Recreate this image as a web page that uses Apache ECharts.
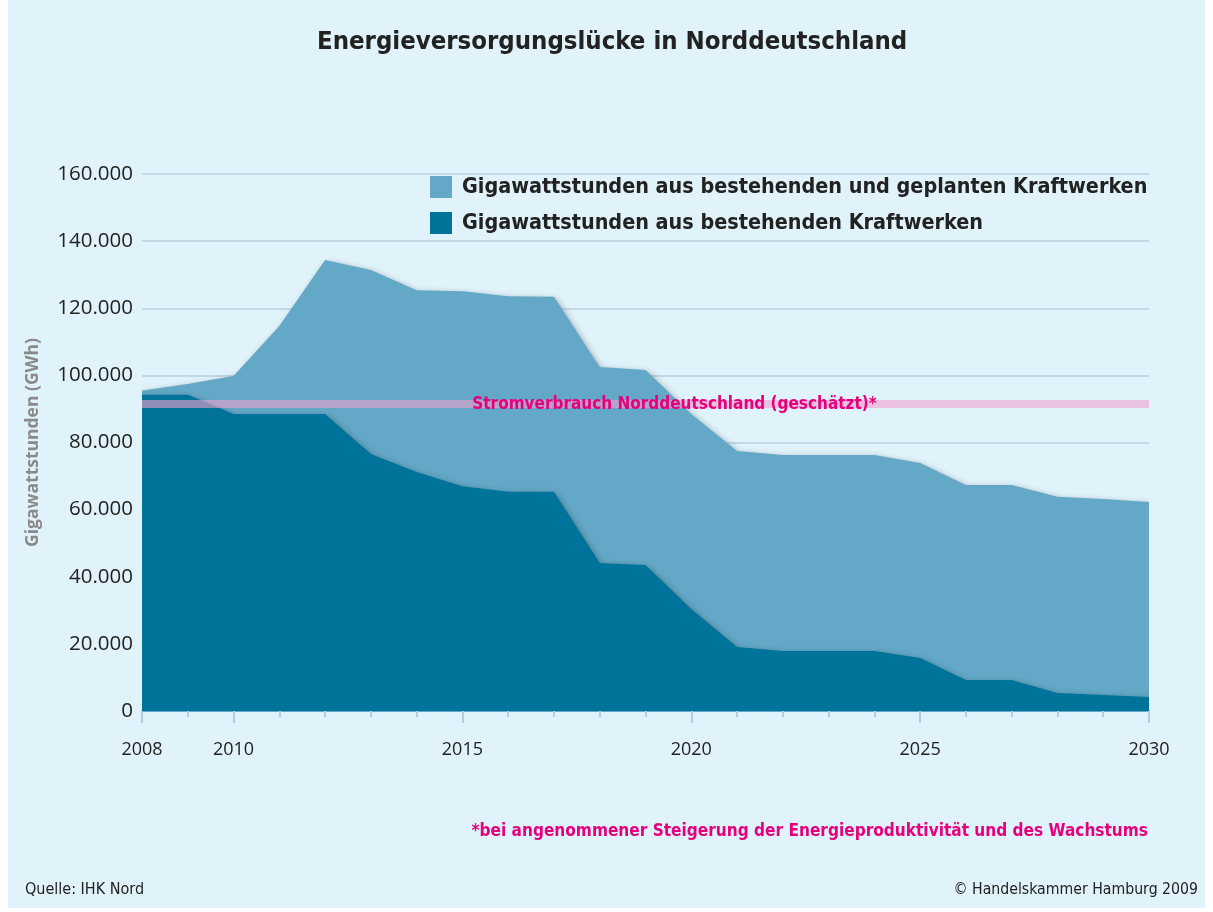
<!DOCTYPE html>
<html><head><meta charset="utf-8">
<script src="https://cdn.jsdelivr.net/npm/echarts@6/dist/echarts.min.js"></script>
<style>html,body{margin:0;padding:0;background:#fff}#c{width:1213px;height:912px}</style>
</head><body><div id="c"></div>
<script>
const years = [2008,2009,2010,2011,2012,2013,2014,2015,2016,2017,2018,2019,2020,2021,2022,2023,2024,2025,2026,2027,2028,2029,2030];
const totalPlanned = [95500,97400,99800,114700,134400,131400,125400,125100,123600,123400,102500,101600,88500,77500,76300,76300,76300,73900,67300,67300,63800,63200,62300];
const existing = [94200,94200,88500,88500,88500,76600,71200,67000,65300,65300,44100,43500,30400,19100,17900,17900,17900,15800,9200,9200,5400,4800,4200];
const consumption = 91500;
const xLabelYears = [2008,2010,2015,2020,2025,2030];
const seriesNames = ['Gigawattstunden aus bestehenden und geplanten Kraftwerken','Gigawattstunden aus bestehenden Kraftwerken'];
const consumptionLabel = 'Stromverbrauch Norddeutschland (geschätzt)*';

const cond = '"DejaVu Sans Condensed","Liberation Sans Narrow","Noto Sans",sans-serif';
const chart = echarts.init(document.getElementById('c'));
chart.setOption({
  backgroundColor: '#ffffff',
  animation: false,
  graphic: [
    {type:'rect', z:-10, shape:{x:8,y:0,width:1197,height:908}, style:{fill:'#e0f2fa'}},
    {type:'text', left:317, top:29, style:{text:'Energieversorgungslücke in Norddeutschland', font:'bold 25.5px '+cond, fill:'#222'}},
    {type:'text', right:65, top:823, style:{text:'*bei angenommener Steigerung der Energieproduktivität und des Wachstums', font:'bold 17.1px '+cond, fill:'#e5007e'}},
    {type:'text', left:25, top:882, style:{text:'Quelle: IHK Nord', font:'16px '+cond, fill:'#222'}},
    {type:'text', right:15, top:882, style:{text:'© Handelskammer Hamburg 2009', font:'15.7px '+cond, fill:'#222'}}
  ],
  legend: {
    orient:'vertical', left:425, top:171, itemWidth:22, itemHeight:22, itemGap:14,
    textStyle:{fontWeight:'bold', fontSize:21.4, fontFamily:cond, color:'#222', padding:[0,0,0,5]},
    data: seriesNames.map(n=>({name:n, icon:'rect'}))
  },
  grid: {left:142, right:64, top:174, bottom:201, containLabel:false},
  xAxis: [
    {type:'value', min:2008, max:2030, interval:1,
     axisLine:{show:true, lineStyle:{color:'#3f9ac4', width:1.5}},
     axisTick:{show:true, customValues:xLabelYears, length:12, lineStyle:{color:'#b7cbdb', width:2}},
     axisLabel:{customValues:xLabelYears, fontSize:18, color:'#222', margin:30, fontFamily:'"Open Sans",sans-serif', formatter:v=>String(v)},
     splitLine:{show:false}},
    {type:'value', min:2008, max:2030, interval:1, position:'bottom',
     axisLine:{show:false},
     axisTick:{show:true, length:6, lineStyle:{color:'#b7cbdb', width:2}},
     axisLabel:{show:false}, splitLine:{show:false}}
  ],
  yAxis: {type:'value', min:0, max:160000, interval:20000,
    name:'Gigawattstunden (GWh)', nameLocation:'middle', nameGap:100,
    nameTextStyle:{color:'#8a8a8a', fontSize:17.5, fontWeight:'bold', fontFamily:'"Open Sans",sans-serif', padding:[0,0,0,0]},
    axisLine:{show:false}, axisTick:{show:false},
    axisLabel:{fontSize:20.5, color:'#222', margin:9, fontFamily:'"Open Sans",sans-serif',
      formatter:v=> v===0?'0':(v/1000).toFixed(3)},
    splitLine:{lineStyle:{color:'#b9cfde', width:1.5}}},
  series: [
    {name:seriesNames[0], type:'line', data:years.map((y,i)=>[y,totalPlanned[i]]),
     symbol:'none', lineStyle:{width:0}, itemStyle:{color:'#63a8c6'},
     areaStyle:{color:'#63a8c6', opacity:1, shadowBlur:6, shadowColor:'rgba(0,0,0,0.3)', shadowOffsetX:2, shadowOffsetY:2}, z:2},
    {name:seriesNames[1], type:'line', data:years.map((y,i)=>[y,existing[i]]),
     symbol:'none', lineStyle:{width:0}, itemStyle:{color:'#00739a'},
     areaStyle:{color:'#00739a', opacity:1, shadowBlur:6, shadowColor:'rgba(0,0,0,0.3)', shadowOffsetX:2, shadowOffsetY:2}, z:3,
     markLine:{silent:true, symbol:'none', z:10,
       lineStyle:{color:'rgba(240,160,205,0.6)', width:8, type:'solid'},
       label:{show:true, position:'middle', formatter:consumptionLabel, color:'#e5007e', fontSize:17, fontWeight:'bold', fontFamily:cond, distance:-9, offset:[29,0]},
       data:[[{coord:[2008,consumption]},{coord:[2030,consumption]}]]}}
  ]
});
</script></body></html>
